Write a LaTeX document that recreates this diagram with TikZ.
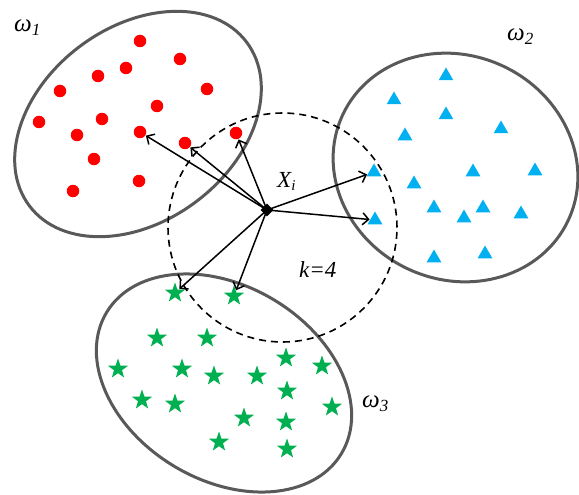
\documentclass[tikz,border=0pt]{standalone}
\usepackage{fontspec}
\setmainfont{Liberation Serif}
\usetikzlibrary{shapes.geometric,arrows.meta}
\definecolor{dotred}{HTML}{FF0000}
\definecolor{triblue}{HTML}{00B0F0}
\definecolor{stargreen}{HTML}{00B050}
\definecolor{rimgray}{HTML}{595959}
\newcommand\omlab[1]{{\fontsize{25}{26}\selectfont\itshape ω}{\fontsize{17}{18}\selectfont\itshape\raisebox{-4pt}{#1}}}
\begin{document}
\begin{tikzpicture}[x=1pt,y=-1pt,
 cluster/.style={draw=rimgray,line width=3pt,ellipse,inner sep=0pt},
 reddot/.style={circle,fill=dotred,minimum size=12.5pt,inner sep=0pt},
 bluetri/.style={regular polygon,regular polygon sides=3,fill=triblue,minimum size=17pt,inner sep=0pt},
 greenstar/.style={star,star points=5,star point ratio=2.5,fill=stargreen,minimum size=21pt,inner sep=0pt},
 link/.style={-{Straight Barb[length=6pt,width=12pt]},line width=1.5pt,shorten >=0.5pt},
 lbl/.style={font=\fontsize{23}{24}\selectfont\itshape,inner sep=0pt,anchor=base west}]
\useasboundingbox (0,0) rectangle (579,495);
% clusters
\node[cluster,minimum width=272pt,minimum height=194pt,rotate=37] (e1) at (138,124) {};
\node[cluster,minimum width=249pt,minimum height=224pt,rotate=-25] (e2) at (455.5,167.5) {};
\node[cluster,minimum width=274pt,minimum height=194pt,rotate=-31] (e3) at (224,383) {};
% neighbourhood
\node[circle,draw,dashed,dash pattern=on 7pt off 5pt,line width=1.6pt,minimum size=229pt,inner sep=0pt] (knn) at (282.5,227.5) {};
% red dots
\node[reddot] (r1) at (140,41) {};
\node[reddot] (r2) at (180,59) {};
\node[reddot] (r3) at (126,68) {};
\node[reddot] (r4) at (98,76) {};
\node[reddot] (r5) at (60,91) {};
\node[reddot] (r6) at (207,89) {};
\node[reddot] (r7) at (157,106) {};
\node[reddot] (r8) at (102,119) {};
\node[reddot] (r9) at (39,122) {};
\node[reddot] (r10) at (140,132) {};
\node[reddot] (r11) at (77,135) {};
\node[reddot] (r12) at (185,143) {};
\node[reddot] (r13) at (236,133) {};
\node[reddot] (r14) at (94,159) {};
\node[reddot] (r15) at (139,181) {};
\node[reddot] (r16) at (73,191) {};
% blue triangles
\node[bluetri] (b1) at (446,76) {};
\node[bluetri] (b2) at (394,100) {};
\node[bluetri] (b3) at (446,115) {};
\node[bluetri] (b4) at (501,129) {};
\node[bluetri] (b5) at (405,136) {};
\node[bluetri] (b6) at (374,172) {};
\node[bluetri] (b7) at (473,172) {};
\node[bluetri] (b8) at (535,171) {};
\node[bluetri] (b9) at (414,184) {};
\node[bluetri] (b10) at (434,208) {};
\node[bluetri] (b11) at (483,208) {};
\node[bluetri] (b12) at (464,218) {};
\node[bluetri] (b13) at (521,214) {};
\node[bluetri] (b14) at (375,220) {};
\node[bluetri] (b15) at (434,258) {};
\node[bluetri] (b16) at (485,254) {};
% green stars
\node[greenstar] (g1) at (175,293) {};
\node[greenstar] (g2) at (234,296) {};
\node[greenstar] (g3) at (157,338) {};
\node[greenstar] (g4) at (207,338) {};
\node[greenstar] (g5) at (118,369) {};
\node[greenstar] (g6) at (182,369) {};
\node[greenstar] (g7) at (214,376) {};
\node[greenstar] (g8) at (257,376) {};
\node[greenstar] (g9) at (286,358) {};
\node[greenstar] (g10) at (322,366) {};
\node[greenstar] (g11) at (142,400) {};
\node[greenstar] (g12) at (175,404) {};
\node[greenstar] (g13) at (287,391) {};
\node[greenstar] (g14) at (332,407) {};
\node[greenstar] (g15) at (244,418) {};
\node[greenstar] (g16) at (286,422) {};
\node[greenstar] (g17) at (219,442) {};
\node[greenstar] (g18) at (287,449) {};
% query point
\node[diamond,fill=black,minimum size=13pt,inner sep=0pt] (xi) at (267,210) {};
\draw[link] (xi.center) -- (r10);
\draw[link] (xi.center) -- (r12);
\draw[link] (xi.center) -- (r13);
\draw[link] (xi.center) -- (b6);
\draw[link] (xi.center) -- (b14);
\draw[link] (xi.center) -- (g1);
\draw[link] (xi.center) -- (g2);
% labels
\node[lbl] (xlab) at (277,187) {X\raisebox{-3pt}{\fontsize{15}{16}\selectfont i}};
\node[lbl] (klab) at (299,277) {k=4};
\node[lbl] (w1) at (14,32) {\omlab{1}};
\node[lbl] (w2) at (507,41) {\omlab{2}};
\node[lbl] (w3) at (362,407) {\omlab{3}};
\end{tikzpicture}
\end{document}
